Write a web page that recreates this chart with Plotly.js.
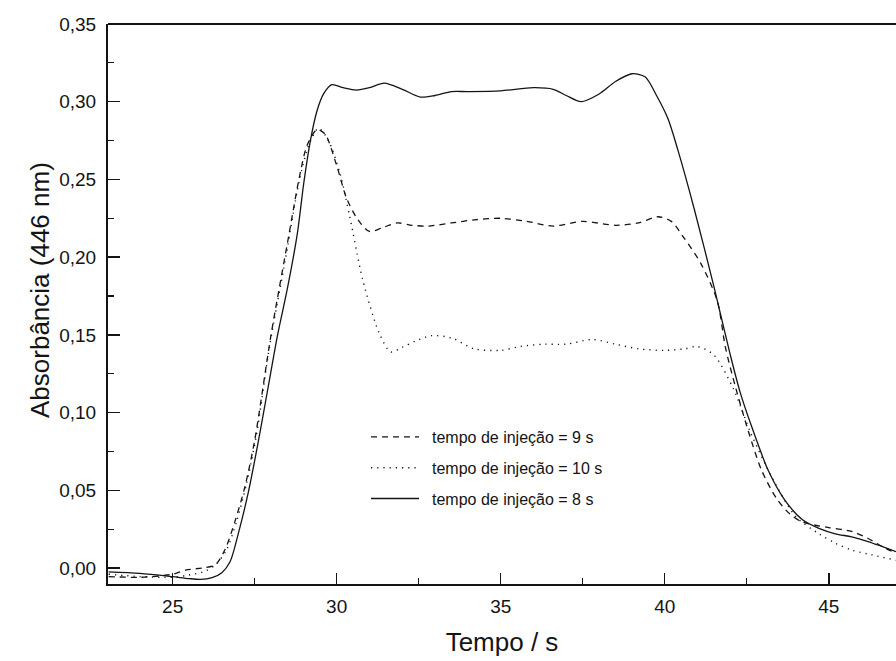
<!DOCTYPE html>
<html>
<head>
<meta charset="utf-8">
<script src="https://cdn.plot.ly/plotly-3.0.1.min.js"></script>
<style>html,body{margin:0;padding:0;background:#fff;}#chart{width:896px;height:661px;}</style>
</head>
<body>
<div id="chart"></div>
<script>
// Series: tempo de injeção = 9 s (dashed)
const x9 = [23.05,24,25,25.4,25.9,26.3,26.6,26.9,27.2,27.5,28,28.55,28.85,29.1,29.4,29.65,30,30.3,30.65,31,31.4,31.85,32.3,32.8,33.5,34.2,35,35.8,36.6,37.5,38.5,39.2,39.8,40.2,40.6,41.1,41.6,41.85,42.15,42.55,42.95,43.4,43.8,44.15,44.6,45,45.7,46.2,46.7,47.05];
const y9 = [-0.0055,-0.006,-0.004,-0.0013,0,0.002,0.012,0.030,0.052,0.082,0.150,0.215,0.250,0.272,0.282,0.279,0.259,0.238,0.224,0.2165,0.219,0.222,0.2205,0.220,0.222,0.224,0.225,0.223,0.220,0.223,0.2205,0.222,0.226,0.223,0.212,0.196,0.172,0.142,0.117,0.088,0.063,0.045,0.035,0.030,0.0275,0.026,0.0235,0.019,0.013,0.0095];

// Series: tempo de injeção = 10 s (dotted)
const x10 = [23.05,24,25,25.5,26,26.35,26.65,26.95,27.25,27.55,27.95,28.45,28.85,29.15,29.45,29.75,30.1,30.4,30.8,31.3,31.65,32,32.4,32.9,33.5,34.2,35,35.6,36.3,37,37.8,38.5,39.2,40,40.6,41,41.5,42.1,42.6,43.3,44,44.7,45.2,45.7,46.3,47.05];
const y10 = [-0.004,-0.0055,-0.006,-0.0045,-0.002,0.003,0.012,0.030,0.054,0.085,0.142,0.200,0.248,0.272,0.283,0.275,0.254,0.226,0.185,0.151,0.139,0.142,0.146,0.1495,0.148,0.141,0.140,0.1425,0.144,0.144,0.147,0.144,0.141,0.140,0.141,0.1425,0.137,0.115,0.088,0.057,0.033,0.022,0.016,0.0115,0.0085,0.005];

// Series: tempo de injeção = 8 s (solid)
const x8 = [23.05,24,25,25.5,25.85,26.2,26.5,26.75,27,27.3,27.6,27.9,28.2,28.5,28.8,29,29.2,29.4,29.6,29.85,30.2,30.6,31,31.45,32,32.55,33,33.5,34,35,36,36.6,37,37.45,38,38.5,39,39.4,39.75,40.1,40.4,40.9,41.5,42,42.3,42.65,43.15,43.65,44.2,44.7,45.2,45.7,46.2,46.6,47.05];
const y8 = [-0.0025,-0.0035,-0.0056,-0.0068,-0.0073,-0.0062,-0.003,0.004,0.022,0.048,0.080,0.115,0.150,0.180,0.215,0.248,0.275,0.294,0.305,0.311,0.309,0.3075,0.309,0.312,0.308,0.303,0.304,0.3065,0.3065,0.307,0.309,0.308,0.304,0.300,0.305,0.313,0.318,0.316,0.304,0.289,0.269,0.231,0.181,0.137,0.113,0.091,0.063,0.044,0.031,0.0255,0.022,0.020,0.017,0.014,0.0105];

const seriesNames = ['tempo de injeção = 9 s','tempo de injeção = 10 s','tempo de injeção = 8 s'];
const xTickVals = [25,30,35,40,45];
const yTickVals = [0,0.05,0.10,0.15,0.20,0.25,0.30,0.35];
const xTitle = 'Tempo / s';
const yTitle = 'Absorbância (446 nm)';

const ink = '#141414';
const pad = '\u2002';
const traces = [
  {x:x9, y:y9, name:pad+seriesNames[0], legendgroup:'a', mode:'lines', line:{color:ink, width:1.3, dash:'6px,5px', shape:'spline', smoothing:0.8}},
  {x:x10, y:y10, name:pad+seriesNames[1], legendgroup:'b', mode:'lines', line:{color:ink, width:1.4, dash:'1.2px,5px', shape:'spline', smoothing:0.8}},
  {x:x8, y:y8, name:pad+seriesNames[2], legendgroup:'c', mode:'lines', line:{color:ink, width:1.3, shape:'spline', smoothing:0.8}}
];

const fam = 'Liberation Sans, Arial, sans-serif';
const layout = {
  width:896, height:661,
  margin:{l:108, r:0, t:24, b:77, pad:0},
  paper_bgcolor:'#fff', plot_bgcolor:'#fff',
  separators:',.',
  showlegend:true,
  xaxis:{
    range:[23.03,47.05], tickvals:xTickVals, ticktext:xTickVals.map(String),
    ticks:'inside', ticklen:11, tickwidth:1.5, tickcolor:ink,
    minor:{dtick:2.5, tick0:0, ticks:'inside', ticklen:6, tickwidth:1.2, tickcolor:ink, showgrid:false},
    showline:true, linewidth:2, linecolor:ink, showgrid:false, zeroline:false,
    tickfont:{family:fam, size:19, color:ink}, ticklabelstandoff:4,
    title:{text:xTitle, font:{family:fam, size:26, color:ink}, standoff:17}
  },
  yaxis:{
    range:[-0.0103,0.35], tickvals:yTickVals, tickformat:'.2f',
    ticks:'inside', ticklen:12, tickwidth:1.5, tickcolor:ink,
    minor:{dtick:0.025, tick0:0, ticks:'inside', ticklen:6, tickwidth:1.2, tickcolor:ink, showgrid:false},
    showline:true, linewidth:2, linecolor:ink, showgrid:false, zeroline:false,
    tickfont:{family:fam, size:19, color:ink}, ticklabelstandoff:6
  },
  legend:{
    x:(366-108)/788, y:1-(420-24)/560, xanchor:'left', yanchor:'top',
    bgcolor:'rgba(0,0,0,0)', borderwidth:0,
    font:{family:fam, size:16, color:ink},
    tracegroupgap:7, itemwidth:48
  },
  annotations:[{
    text:yTitle, xref:'paper', yref:'paper', x:(40-108)/788, y:1-(290-24)/560,
    xanchor:'center', yanchor:'middle', textangle:-90, showarrow:false,
    font:{family:fam, size:26, color:ink}
  }],
  shapes:[{type:'line', xref:'paper', yref:'paper', x0:0, x1:1, y0:1, y1:1, line:{color:ink, width:2}}]
};

Plotly.newPlot('chart', traces, layout, {staticPlot:true, displayModeBar:false});
</script>
</body>
</html>
